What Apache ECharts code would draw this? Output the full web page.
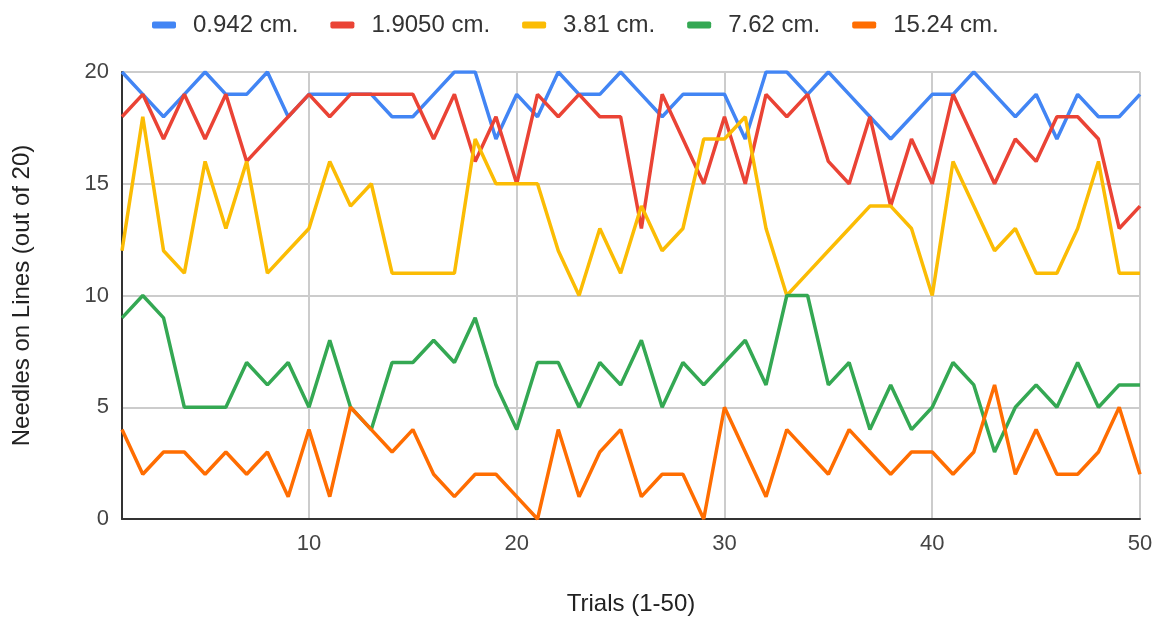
<!DOCTYPE html>
<html>
<head>
<meta charset="utf-8">
<script src="https://cdn.jsdelivr.net/npm/echarts@6/dist/echarts.min.js"></script>
<style>html,body{margin:0;padding:0;background:#fff}#c{width:1161px;height:619px}</style>
</head>
<body>
<div id="c"></div>
<script>
const trials = Array.from({length: 50}, (_, i) => i + 1);
const seriesNames = ['0.942 cm.', '1.9050 cm.', '3.81 cm.', '7.62 cm.', '15.24 cm.'];
const s0942 = [20,19,18,19,20,19,19,20,18,19, 19,19,19,18,18,19,20,20,17,19, 18,20,19,19,20,19,18,19,19,19, 17,20,20,19,20,19,18,17,18,19, 19,20,19,18,19,17,19,18,18,19];
const s19050 = [18,19,17,19,17,19,16,17,18,19, 18,19,19,19,19,17,19,16,18,15, 19,18,19,18,18,13,19,17,15,18, 15,19,18,19,16,15,18,14,17,15, 19,17,15,17,16,18,18,17,13,14];
const s381 = [12,18,12,11,16,13,16,11,12,13, 16,14,15,11,11,11,11,17,15,15, 15,12,10,13,11,14,12,13,17,17, 18,13,10,11,12,13,14,14,13,10, 16,14,12,13,11,11,13,16,11,11];
const s762 = [9,10,9,5,5,5,7,6,7,5, 8,5,4,7,7,8,7,9,6,4, 7,7,5,7,6,8,5,7,6,7, 8,6,10,10,6,7,4,6,4,5, 7,6,3,5,6,5,7,5,6,6];
const s1524 = [4,2,3,3,2,3,2,3,1,4, 1,5,4,3,4,2,1,2,2,1, 0,4,1,3,4,1,2,2,0,5, 3,1,4,3,2,4,3,2,3,3, 2,3,6,2,4,2,2,3,5,2];
const colors = ['#4285F4', '#EA4335', '#FBBC04', '#34A853', '#FF6D01'];
const allData = [s0942, s19050, s381, s762, s1524];
const xTitle = 'Trials (1-50)';
const yTitle = 'Needles on Lines (out of 20)';

const font = "'Liberation Sans', Arial, sans-serif";
const chart = echarts.init(document.getElementById('c'), null, {renderer: 'canvas'});
chart.setOption({
  animation: false,
  color: colors,
  legend: {
    left: 147, top: 8,
    itemWidth: 24, itemHeight: 7, itemGap: 32,
    icon: 'roundRect',
    textStyle: {fontFamily: font, fontSize: 24, color: '#333', padding: [0, 0, 0, 12]},
    data: seriesNames
  },
  grid: {left: 122, right: 21, top: 72, bottom: 100, containLabel: false, outerBoundsMode: 'none'},
  xAxis: {
    type: 'value', min: 1, max: 50, splitNumber: 5,
    name: xTitle, nameLocation: 'middle', nameGap: 73,
    nameTextStyle: {fontFamily: font, fontSize: 24, color: '#222'},
    axisLine: {show: true, lineStyle: {color: '#333', width: 2}},
    axisTick: {show: false},
    axisLabel: {fontFamily: font, fontSize: 22, color: '#444', margin: 14,
      formatter: v => (v % 10 === 0 ? String(v) : '')},
    splitLine: {show: true, lineStyle: {color: '#cccccc', width: 2}}
  },
  yAxis: {
    type: 'value', min: 0, max: 20, interval: 5,
    name: yTitle, nameLocation: 'middle', nameGap: 88,
    nameTextStyle: {fontFamily: font, fontSize: 24, color: '#222'},
    axisLine: {show: true, lineStyle: {color: '#333', width: 2}},
    axisTick: {show: false},
    axisLabel: {fontFamily: font, fontSize: 22, color: '#444', margin: 13},
    splitLine: {show: true, lineStyle: {color: '#cccccc', width: 2}}
  },
  series: seriesNames.map((n, k) => ({
    name: n, type: 'line', symbol: 'none', smooth: false,
    lineStyle: {width: 3.5, color: colors[k]},
    itemStyle: {color: colors[k]},
    data: trials.map((t, i) => [t, allData[k][i]])
  }))
});
</script>
</body>
</html>
